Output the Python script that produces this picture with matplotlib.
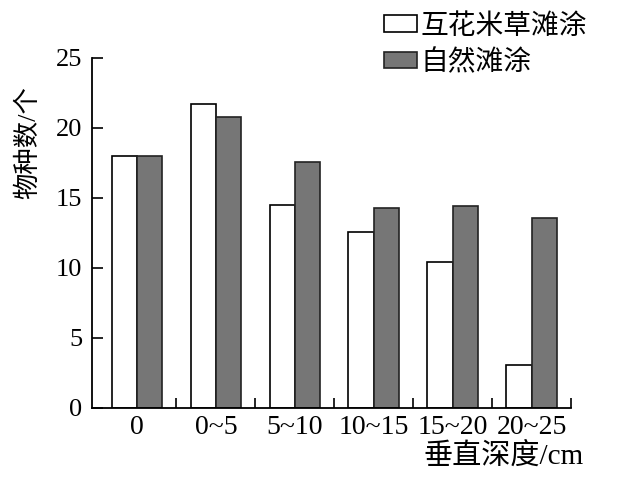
import numpy as np
import matplotlib
matplotlib.use("Agg")
import matplotlib.pyplot as plt

categories = ["0", "0~5", "5~10", "10~15", "15~20", "20~25"]
spartina = [18.0, 21.7, 14.5, 12.6, 10.4, 3.1]
natural = [18.0, 20.8, 17.6, 14.3, 14.4, 13.6]
labels = ["互花米草滩涂", "自然滩涂"]
yticks = [0, 5, 10, 15, 20, 25]

fam = ["Liberation Serif", "Noto Sans CJK SC"]
plt.rcParams["font.family"] = fam

fig = plt.figure(figsize=(6.27, 4.79), dpi=100)
ax = fig.add_axes([92 / 627, 71 / 479, (571 - 92) / 627, 350 / 479])

x = np.arange(len(categories))
w = 0.32
b1 = ax.bar(x - w / 2, spartina, w, color="white", edgecolor="black", linewidth=1.2, label=labels[0])
b2 = ax.bar(x + w / 2, natural, w, color="#767676", edgecolor="#222222", linewidth=1.2, label=labels[1])

ax.set_xlim(-0.57, 5.5)
ax.set_ylim(0, 25)
ax.spines["top"].set_visible(False)
ax.spines["right"].set_visible(False)
ax.spines["left"].set_linewidth(1.3)
ax.spines["bottom"].set_linewidth(1.3)

ax.set_yticks(yticks)
ax.tick_params(axis="y", direction="in", length=8, width=1.2, pad=7, labelsize=19)

# group separators as minor ticks, labels at group centres
ax.set_xticks(x)
ax.set_xticklabels(categories)
ax.tick_params(axis="x", which="major", length=0, pad=5, labelsize=20)
ax.set_xticks(np.arange(0.5, 6, 1), minor=True)
ax.tick_params(axis="x", which="minor", direction="in", length=7, width=1.2)

fig.text(28 / 627, 1 - 143 / 479, "物种数/个", rotation=90, ha="center", va="center", fontsize=19)
fig.text(584 / 627, 1 - 456 / 479, "垂直深度/cm", ha="right", va="center", fontsize=21)

fig.legend(handles=[b1, b2], labels=labels, loc="upper left",
           bbox_to_anchor=(370 / 627, 1.0), frameon=False, fontsize=20,
           handlelength=1.2, handleheight=0.55, handletextpad=0.1, labelspacing=0.35,
           borderpad=0.0)

fig.savefig("out.png", dpi=100)
